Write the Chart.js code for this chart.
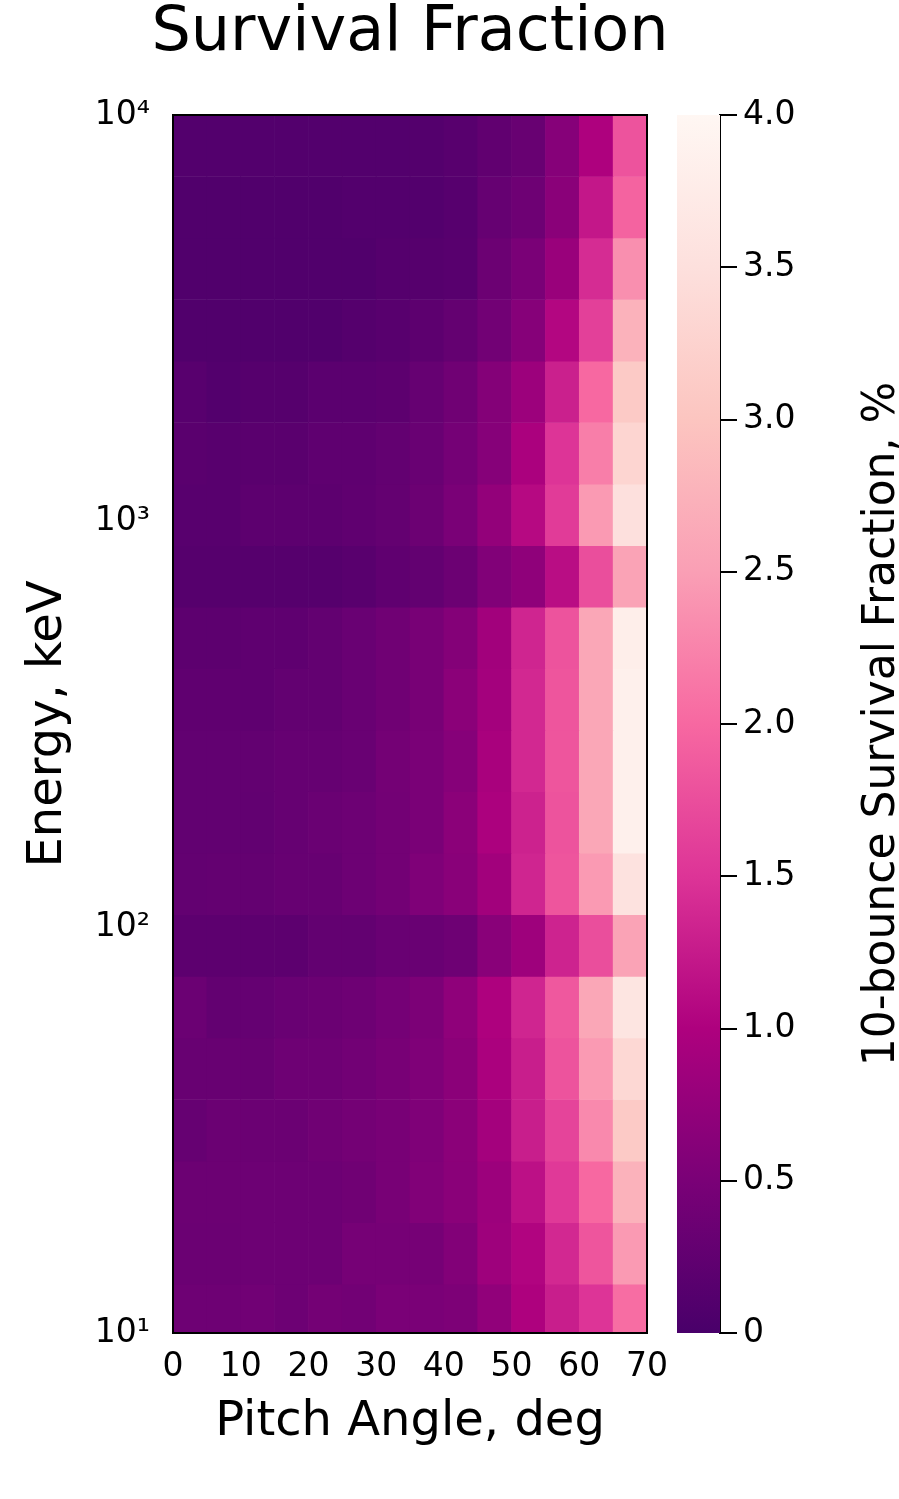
<!DOCTYPE html>
<html><head><meta charset="utf-8">
<script src="https://cdn.jsdelivr.net/npm/chart.js@4/dist/chart.umd.min.js"></script>
<style>
html,body{margin:0;padding:0;background:#fff;}
#wrap{position:relative;width:899px;height:1499px;}
#main{position:absolute;left:0;top:0;}
#cbar{position:absolute;left:660px;top:0;}
</style></head><body>
<div id="wrap"><canvas id="main" width="899" height="1499"></canvas><canvas id="cbar" width="239" height="1499"></canvas></div>
<script>
// Pitch-angle bin centres (deg)
const pitchAngles = [2.5, 7.5, 12.5, 17.5, 22.5, 27.5, 32.5, 37.5, 42.5, 47.5, 52.5, 57.5, 62.5, 67.5];
// Energy bin edges (keV), from top (highest) to bottom (lowest)
const energyEdges = [10000, 7056, 4977, 3512, 2477, 1748, 1233, 869.8, 613.7, 432.9, 305.3, 215.4, 151.9, 107.2, 75.6, 53.3, 37.6, 26.5, 18.7, 13.2, 9.33];
// 10-bounce survival fraction (%) per energy bin (rows, top to bottom) and pitch-angle bin (columns)
const survival = [
  [0.10,0.10,0.10,0.10,0.10,0.10,0.10,0.11,0.15,0.24,0.32,0.62,1.00,1.80],
  [0.08,0.08,0.08,0.08,0.08,0.10,0.10,0.10,0.14,0.30,0.38,0.65,1.22,1.95],
  [0.08,0.08,0.08,0.08,0.08,0.08,0.12,0.13,0.15,0.36,0.50,0.80,1.42,2.35],
  [0.08,0.08,0.08,0.08,0.08,0.12,0.15,0.20,0.28,0.42,0.62,1.05,1.62,2.75],
  [0.15,0.10,0.13,0.13,0.18,0.18,0.20,0.30,0.40,0.60,0.83,1.30,2.00,3.10],
  [0.17,0.15,0.17,0.17,0.22,0.22,0.27,0.33,0.45,0.62,0.97,1.50,2.20,3.30],
  [0.15,0.15,0.20,0.20,0.20,0.23,0.28,0.36,0.50,0.74,1.08,1.57,2.45,3.50],
  [0.13,0.13,0.13,0.13,0.13,0.16,0.23,0.27,0.36,0.57,0.70,1.12,1.75,2.55],
  [0.20,0.20,0.22,0.22,0.27,0.33,0.40,0.48,0.60,0.88,1.35,1.80,2.60,3.80],
  [0.23,0.23,0.22,0.27,0.27,0.33,0.40,0.48,0.66,0.90,1.38,1.82,2.60,3.85],
  [0.25,0.25,0.27,0.30,0.30,0.33,0.44,0.50,0.62,0.95,1.38,1.82,2.60,3.85],
  [0.25,0.25,0.25,0.30,0.34,0.37,0.43,0.50,0.66,0.98,1.32,1.80,2.60,3.85],
  [0.27,0.28,0.28,0.31,0.31,0.37,0.43,0.55,0.64,0.88,1.35,1.82,2.45,3.55],
  [0.20,0.20,0.20,0.20,0.27,0.27,0.33,0.33,0.38,0.64,0.85,1.33,1.75,2.55],
  [0.35,0.27,0.29,0.33,0.35,0.38,0.45,0.52,0.70,1.00,1.35,1.85,2.60,3.60],
  [0.32,0.32,0.32,0.38,0.38,0.42,0.48,0.55,0.66,0.97,1.28,1.80,2.45,3.35],
  [0.30,0.35,0.35,0.35,0.40,0.44,0.48,0.55,0.66,0.90,1.28,1.65,2.30,3.10],
  [0.36,0.36,0.37,0.37,0.37,0.40,0.48,0.57,0.65,0.83,1.15,1.55,2.00,2.75],
  [0.35,0.35,0.37,0.37,0.37,0.46,0.46,0.46,0.58,0.85,1.03,1.38,1.82,2.45],
  [0.38,0.38,0.41,0.37,0.44,0.42,0.50,0.50,0.53,0.72,1.00,1.28,1.50,2.05]
];
const yTickValues = [10, 100, 1000, 10000];
const xTickValues = [0, 10, 20, 30, 40, 50, 60, 70];
const cbTickValues = [0, 0.5, 1.0, 1.5, 2.0, 2.5, 3.0, 3.5, 4.0];
const cbMin = 0, cbMax = 4;
const colormap = ['#49006a','#7a0177','#ae017e','#dd3497','#f768a1','#fa9fb5','#fcc5c0','#fde0dd','#fff7f3'];
const chartTitle = 'Survival Fraction';

function hexToRgb(h){ return [parseInt(h.slice(1,3),16), parseInt(h.slice(3,5),16), parseInt(h.slice(5,7),16)]; }
const cmRgb = colormap.map(hexToRgb);
function colorFor(v){
  let t = (v - cbMin) / (cbMax - cbMin);
  t = Math.max(0, Math.min(1, t)) * (cmRgb.length - 1);
  const i = Math.min(Math.floor(t), cmRgb.length - 2);
  const f = t - i;
  const a = cmRgb[i], b = cmRgb[i+1];
  const c = a.map((x, k) => Math.round(x + (b[k] - x) * f));
  return 'rgb(' + c.join(',') + ')';
}

Chart.defaults.font.family = "'DejaVu Sans', sans-serif";
Chart.defaults.color = '#000';

const sup = {'0':'⁰','1':'¹','2':'²','3':'³','4':'⁴','5':'⁵','6':'⁶','7':'⁷','8':'⁸','9':'⁹'};

const datasets = survival.map((row, i) => ({
  data: row.map((v, j) => ({ x: pitchAngles[j], y: [energyEdges[i+1], energyEdges[i]] })),
  backgroundColor: row.map(v => colorFor(v)),
  borderWidth: 0,
  grouped: false,
  barPercentage: 1,
  categoryPercentage: 1
}));

const framePlugin = {
  id: 'frame',
  afterDatasetsDraw(chart){
    const {ctx, chartArea: a} = chart;
    ctx.save();
    ctx.strokeStyle = '#000';
    ctx.lineWidth = 2;
    ctx.strokeRect(a.left, a.top, a.right - a.left, a.bottom - a.top);
    ctx.restore();
  },
  afterDraw(chart){
    const {ctx, chartArea: a} = chart;
    ctx.save();
    ctx.font = "62px 'DejaVu Sans'";
    ctx.fillStyle = '#000';
    ctx.textAlign = 'center';
    ctx.textBaseline = 'middle';
    ctx.fillText(chartTitle, (a.left + a.right) / 2, 34);
    ctx.restore();
  }
};

new Chart(document.getElementById('main'), {
  type: 'bar',
  data: { datasets },
  options: {
    responsive: false,
    animation: false,
    layout: { padding: { left: 0, right: 252, top: 115, bottom: 0 } },
    plugins: {
      legend: { display: false },
      tooltip: { enabled: false },
      title: { display: false }
    },
    scales: {
      x: {
        type: 'linear', min: 0, max: 70, offset: false,
        grid: { display: false, offset: false, drawTicks: false },
        border: { display: false },
        afterBuildTicks: s => { s.ticks = xTickValues.map(v => ({ value: v })); },
        afterFit: s => { s.height = 166; },
        ticks: { font: { size: 33 }, padding: 15, maxRotation: 0, autoSkip: false, color: '#000' },
        title: { display: true, text: 'Pitch Angle, deg', font: { size: 48, lineHeight: 1 }, padding: { top: 0, bottom: 52 }, color: '#000' }
      },
      y: {
        type: 'logarithmic', min: 10, max: 10000, position: 'left',
        grid: { display: false, drawTicks: false },
        border: { display: false },
        afterBuildTicks: s => { s.ticks = yTickValues.map(v => ({ value: v, major: true })); },
        afterFit: s => { s.width = 173; },
        ticks: {
          font: { size: 33 }, padding: 23, autoSkip: false, color: '#000',
          callback: v => '10' + String(Math.round(Math.log10(v))).split('').map(d => sup[d]).join('')
        },
        title: { display: true, text: 'Energy, keV', font: { size: 48, lineHeight: 1 }, padding: { top: 25, bottom: 0 }, color: '#000' }
      }
    }
  },
  plugins: [framePlugin]
});

const gradientPlugin = {
  id: 'cbGradient',
  beforeDatasetsDraw(chart){
    const {ctx, chartArea: a} = chart;
    const ys = chart.scales.y;
    const g = ctx.createLinearGradient(0, ys.getPixelForValue(cbMin), 0, ys.getPixelForValue(cbMax));
    colormap.forEach((c, i) => g.addColorStop(i / (colormap.length - 1), c));
    ctx.save();
    ctx.fillStyle = g;
    ctx.fillRect(a.left, a.top, a.right - a.left, a.bottom - a.top);
    ctx.restore();
  }
};
const cbTitlePlugin = {
  id: 'cbTitle',
  afterDraw(chart){
    const {ctx, chartArea: a} = chart;
    ctx.save();
    ctx.font = "44px 'DejaVu Sans'";
    ctx.fillStyle = '#000';
    ctx.textAlign = 'center';
    ctx.textBaseline = 'middle';
    ctx.translate(223, (a.top + a.bottom) / 2);
    ctx.rotate(-Math.PI / 2);
    ctx.fillText('10-bounce Survival Fraction, %', 0, 0);
    ctx.restore();
  }
};

new Chart(document.getElementById('cbar'), {
  type: 'bar',
  data: { labels: [''], datasets: [{ data: [] }] },
  options: {
    responsive: false,
    animation: false,
    layout: { padding: { left: 17, right: 0, top: 115, bottom: 166 } },
    plugins: { legend: { display: false }, tooltip: { enabled: false }, title: { display: false } },
    scales: {
      x: { display: false },
      y: {
        type: 'linear', position: 'right', min: cbMin, max: cbMax,
        afterBuildTicks: s => { s.ticks = cbTickValues.map(v => ({ value: v })); },
        afterFit: s => { s.width = 179; },
        ticks: { font: { size: 33 }, padding: 6, color: '#000', autoSkip: false,
                 callback: v => v === 0 ? '0' : v.toFixed(1) },
        grid: { display: true, drawOnChartArea: false, drawTicks: true, tickLength: 17, color: '#000', lineWidth: 2 },
        border: { display: true, color: '#000', width: 2 }
      }
    }
  },
  plugins: [gradientPlugin, cbTitlePlugin]
});
</script>
</body></html>
